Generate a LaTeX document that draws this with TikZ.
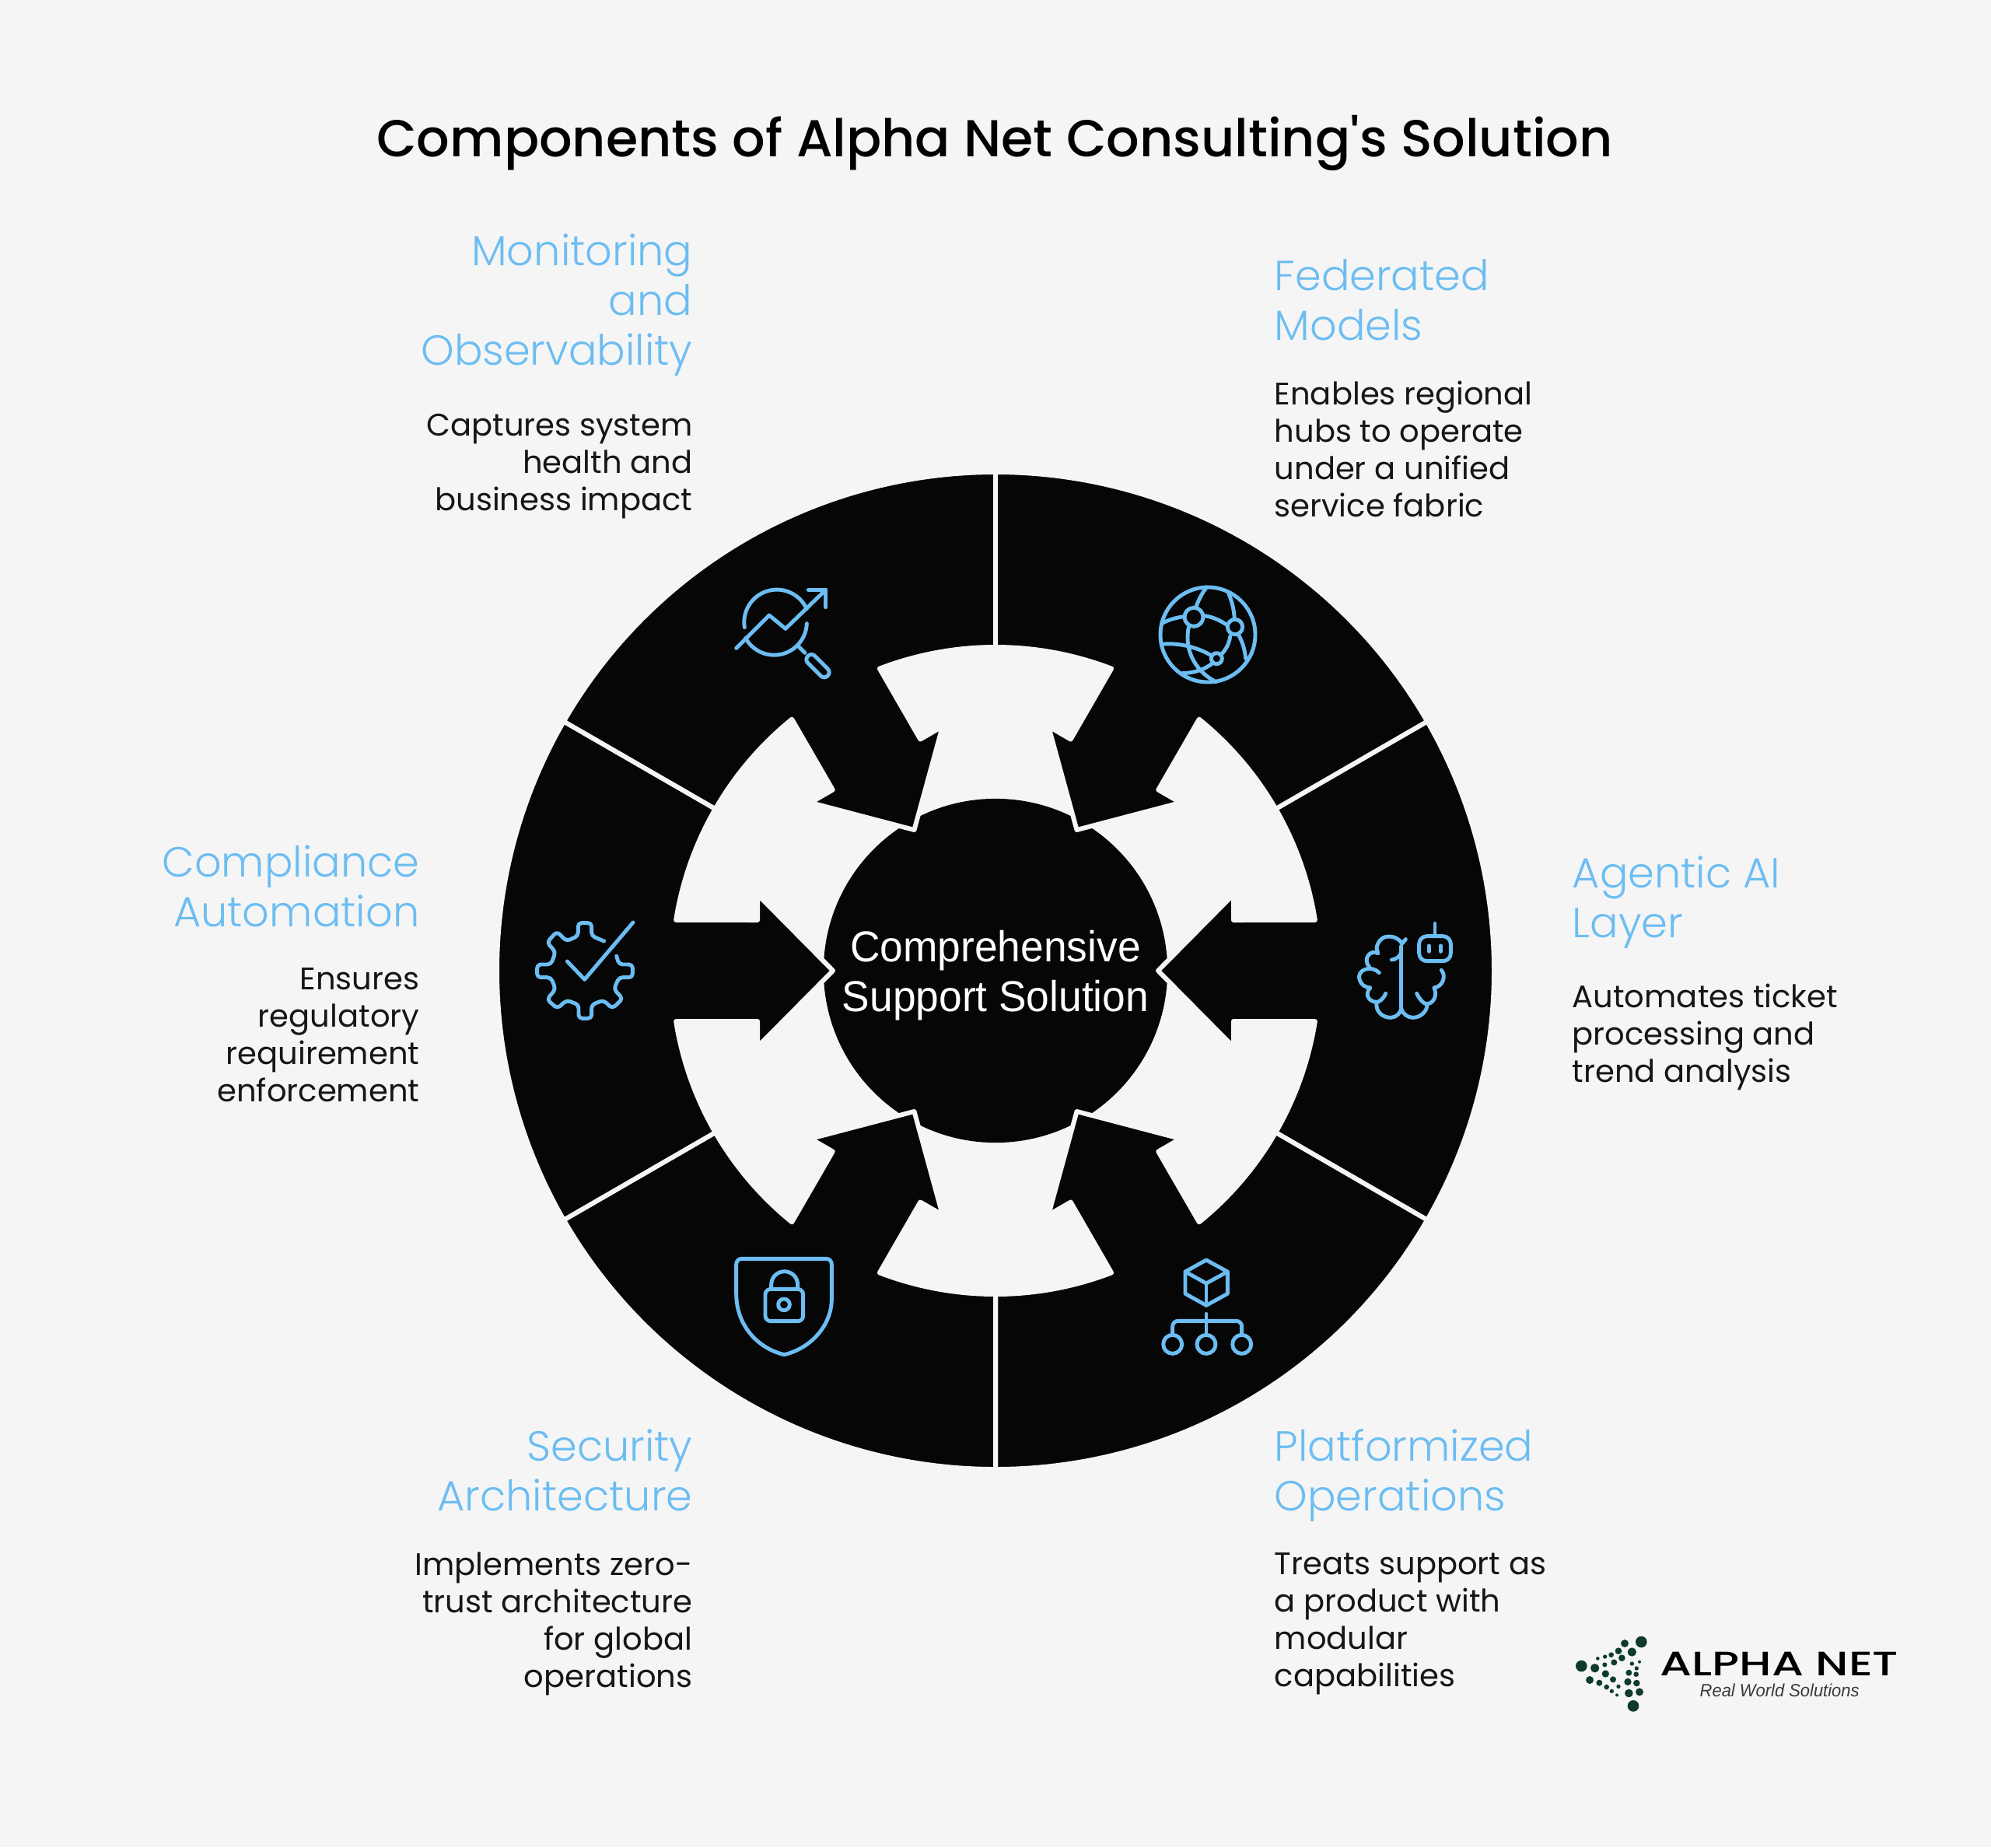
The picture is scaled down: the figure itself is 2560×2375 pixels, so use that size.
\documentclass[tikz,border=0pt]{standalone}
\usepackage{fontspec}
\usetikzlibrary{positioning}
\setmainfont{Poppins}
\newfontfamily\headfont{Poppins Light}
\newfontfamily\titlefont{Poppins Medium}
\newfontfamily\hubfont[FakeStretch=0.96]{Liberation Sans}
\newfontfamily\logofont[FakeStretch=1.35]{Poppins Medium}
\definecolor{pagebg}{HTML}{F5F5F5}
\definecolor{sectorblack}{HTML}{060606}
\definecolor{skyblue}{HTML}{6CBDF2}
\definecolor{logogreen}{HTML}{0E3B2E}
\definecolor{taglinegrey}{HTML}{3A3A3A}
\definecolor{bodyink}{HTML}{161616}

\begin{document}
\begin{tikzpicture}[
    x=0.01cm, y=0.01cm, yscale=-1,
    sector/.style={fill=sectorblack, draw=pagebg, line width=1.7pt, line join=round},
    hub/.style={circle, fill=sectorblack, minimum size=4.42cm, inner sep=0},
    hublabel/.style={inner sep=0, text=white, align=center, font=\hubfont\fontsize{15.8}{18.2}\selectfont},
    icon/.style={draw=skyblue, line width=1.4pt, line cap=round, line join=round},
    iconbox/.style={shift={#1}, scale=1/3},
    heading/.style={inner sep=0, text=skyblue, font=\headfont\fontsize{15.4}{18.2}\selectfont, execute at begin node=\strut, execute at end node=\strut},
    bodytext/.style={inner sep=0, text=bodyink, font=\fontsize{11.4}{13.65}\selectfont, execute at begin node=\strut, execute at end node=\strut}
]
    % Page
    \fill[pagebg] (0,0) rectangle (2560,2375);
    \node[inner sep=0, font=\titlefont\fontsize{19}{24}\selectfont] (title) at (1279,184) {Components of Alpha Net Consulting's Solution};

    % Hub and sectors
    \node[hub] (core) at (1280,1248) {};
    \foreach \ang in {0,60,...,300} {
        \begin{scope}[shift={(core.center)}, rotate=\ang]
            \draw[sector] (30:641) arc[start angle=30, end angle=-30, radius=641]
                -- (-30:416) arc[start angle=-30, end angle=-9, radius=416]
                -- (306,-65) -- (306,-98) -- (209,0) -- (306,98) -- (306,65)
                -- (9:416) arc[start angle=9, end angle=30, radius=416] -- cycle;
        \end{scope}
    }
    \node[hublabel] (corelabel) at (1280,1254) {Comprehensive \\ Support Solution};

    % Labels
    \node[heading, align=right, anchor=north east] (monhead) at (891,300) {Monitoring \\ and \\ Observability};
    \node[bodytext, align=right, below=0.42cm of monhead.south east, anchor=north east] (monbody) {Captures system \\ health and \\ business impact};
    \node[heading, align=left, anchor=north west] (fedhead) at (1638,333) {Federated \\ Models};
    \node[bodytext, align=left, below=0.32cm of fedhead.south west, anchor=north west] (fedbody) {Enables regional \\ hubs to operate \\ under a unified \\ service fabric};
    \node[heading, align=left, anchor=north west] (agenthead) at (2021,1100) {Agentic AI \\ Layer};
    \node[bodytext, align=left, below=0.39cm of agenthead.south west, anchor=north west] (agentbody) {Automates ticket \\ processing and \\ trend analysis};
    \node[heading, align=right, anchor=north east] (comphead) at (540,1086) {Compliance \\ Automation};
    \node[bodytext, align=right, below=0.32cm of comphead.south east, anchor=north east] (compbody) {Ensures \\ regulatory \\ requirement \\ enforcement};
    \node[heading, align=right, anchor=north east] (sechead) at (891,1837) {Security \\ Architecture};
    \node[bodytext, align=right, below=0.33cm of sechead.south east, anchor=north east] (secbody) {Implements zero- \\ trust architecture \\ for global \\ operations};
    \node[heading, align=left, anchor=north west] (plathead) at (1638,1837) {Platformized \\ Operations};
    \node[bodytext, align=left, below=0.33cm of plathead.south west, anchor=north west] (platbody) {Treats support as \\ a product with \\ modular \\ capabilities};

    % Magnifier with trend
    \begin{scope}[iconbox={(900,720)}]
        \draw[icon] (172,260) arc[start angle=171, end angle=336, radius=126];
        \draw[icon] (412,245) arc[start angle=2, end angle=151, radius=126];
        \draw[icon] (140,340) -- (267,213) -- (330,265) -- (485,115);
        \draw[icon] (418,115) -- (485,115) -- (485,182);
        \draw[icon] (382,335) -- (405,358);
        \draw[icon, rounded corners=0.06cm] (430,357) -- (506,433) -- (479,460) -- (403,384) -- cycle;
    \end{scope}

    % Globe
    \begin{scope}[iconbox={(1460,720)}]
        \draw[icon] (279,288) circle[radius=183];
        \draw[icon] (225,220) circle[radius=36];
        \draw[icon] (384,258) circle[radius=29];
        \draw[icon] (313,380) circle[radius=21];
        \draw[icon] (275,105) .. controls (258,125) and (245,150) .. (233,182);
        \draw[icon] (100,245) .. controls (125,232) and (155,222) .. (187,218);
        \draw[icon] (263,215) .. controls (295,218) and (325,232) .. (352,250);
        \draw[icon] (358,125) .. controls (372,160) and (380,190) .. (382,228);
        \draw[icon] (205,260) .. controls (190,330) and (215,420) .. (310,470);
        \draw[icon] (100,325) .. controls (165,318) and (235,335) .. (292,368);
        \draw[icon] (365,295) .. controls (362,320) and (350,345) .. (330,365);
        \draw[icon] (295,400) .. controls (262,425) and (225,435) .. (180,437);
        \draw[icon] (398,290) .. controls (412,315) and (422,345) .. (425,380);
    \end{scope}

    % Brain with robot
    \begin{scope}[iconbox={(1720,1160)}]
        \draw[icon, rounded corners=0.1cm] (314,131) rectangle (436,227);
        \draw[icon] (375,82) -- (375,125);
        \draw[icon] (352,168) -- (352,190);
        \draw[icon] (397,168) -- (397,190);
        \draw[icon] (262,143) -- (248,160) .. controls (235,130) and (165,110) .. (150,175) -- (155,197);
        \draw[icon] (155,197) .. controls (125,180) and (95,220) .. (122,250);
        \draw[icon] (160,272) .. controls (130,240) and (70,260) .. (85,300) .. controls (90,318) and (105,328) .. (125,330);
        \draw[icon] (125,330) .. controls (100,360) and (125,385) .. (150,385);
        \draw[icon] (150,385) .. controls (145,425) and (175,445) .. (205,445) .. controls (225,445) and (245,425) .. (245,410);
        \draw[icon] (245,170) -- (245,410);
        \draw[icon] (245,410) .. controls (250,430) and (270,445) .. (290,445) .. controls (320,445) and (345,420) .. (345,395);
        \draw[icon] (305,352) .. controls (315,375) and (335,395) .. (345,392) .. controls (370,390) and (385,360) .. (372,330);
        \draw[icon] (372,330) .. controls (405,325) and (420,285) .. (400,262);
        \draw[icon] (208,222) .. controls (225,222) and (245,205) .. (245,190);
        \draw[icon] (185,352) .. controls (175,375) and (160,385) .. (150,385);
    \end{scope}

    % Cube with tree
    \begin{scope}[iconbox={(1470,1600)}]
        \draw[icon] (243,60) -- (325,105) -- (325,190) -- (243,235) -- (162,190) -- (162,105) -- cycle;
        \draw[icon] (162,105) -- (243,150) -- (325,105);
        \draw[icon] (243,150) -- (243,235);
        \draw[icon] (243,268) -- (243,345);
        \draw[icon, rounded corners=0.07cm] (113,345) -- (113,295) -- (380,295) -- (380,345);
        \foreach \cx in {113,243,380} {
            \draw[icon] (\cx,385) circle[radius=36];
        }
    \end{scope}

    % Shield with lock
    \begin{scope}[iconbox={(920,1600)}]
        \draw[icon] (265,425) .. controls (160,400) and (80,310) .. (80,190) [rounded corners=0.07cm] -- (80,55) -- (448,55) -- (448,190) [sharp corners] .. controls (448,310) and (370,400) .. (265,425);
        \draw[icon, rounded corners=0.07cm] (192,172) rectangle (338,296);
        \draw[icon] (215,172) -- (215,155) arc[start angle=180, end angle=360, radius=51] -- (317,172);
        \draw[icon] (264,232) circle[radius=22];
    \end{scope}

    % Gear with check
    \begin{scope}[iconbox={(670,1160)}]
        \draw[icon, rounded corners=0.045cm] (320,150) -- (272,130) -- (272,80) -- (220,80) -- (220,130) -- (175,150) -- (138,113) -- (100,155) -- (133,192) -- (115,240) -- (62,240) -- (62,290) -- (115,290) -- (133,335) -- (100,375) -- (140,410) -- (175,378) -- (222,395) -- (222,448) -- (272,448) -- (272,395) -- (318,378) -- (352,410) -- (392,372) -- (358,335) -- (378,290) -- (430,290) -- (430,240) -- (378,240) -- (368,208);
        \draw[icon] (178,228) -- (245,298) -- (432,78);
    \end{scope}

    % Logo
    \foreach \dx/\dy/\dr in {100/186/22,152/194/17,132/240/15,169/251/12,197/267/10,217/283/8,237/298/6,243/265/8,222/238/12,193/216/14,190/181/9,163/157/7,191/150/8,215/143/10,243/128/13,267/99/15,331/93/22,295/132/17,256/155/13,226/172/12,295/177/8,324/170/6,313/195/8,311/218/10,283/212/12,279/247/14,313/252/13,324/286/15,283/291/16,300/340/22} {
        \fill[logogreen] ({2000+\dx/3},{2080+\dy/3}) circle[radius=\dr/3];
    }
    \node[inner sep=0, anchor=base west, text depth=0pt, font=\logofont\fontsize{12.4}{14}\selectfont] (logoname) at (2134,2154) {ALPHA NET};
    \node[inner sep=0, anchor=base west, text height=4.8pt, text=taglinegrey, font=\hubfont\itshape\fontsize{6.5}{8}\selectfont] (tagline) at (2185,2181) {Real World Solutions};
\end{tikzpicture}
\end{document}
